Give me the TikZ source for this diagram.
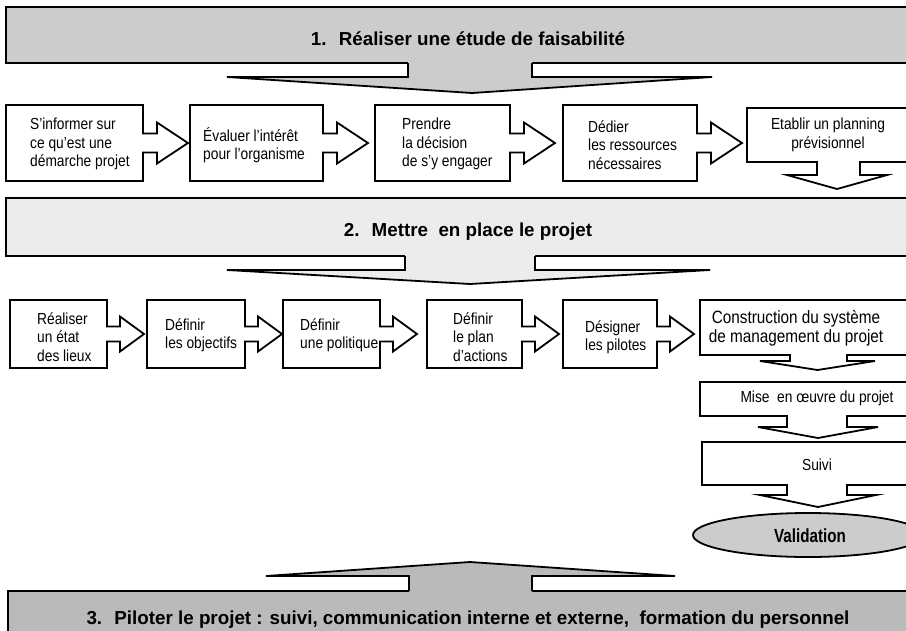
\documentclass[tikz,border=0pt]{standalone}
\usepackage{fontspec}
\setmainfont{Liberation Sans}
\newfontfamily\narrowfont[FakeStretch=0.86]{Liberation Sans}
\newfontfamily\valfont[FakeStretch=0.8]{Liberation Sans}
\usetikzlibrary{shapes.geometric}
\definecolor{gA}{RGB}{204,204,204}
\definecolor{gB}{RGB}{236,236,236}
\definecolor{gC}{RGB}{184,186,188}
\definecolor{gV}{RGB}{204,204,204}
\tikzset{
  outl/.style={draw=black, line width=1.8pt, line join=miter},
  bline/.style={line width=1.8pt, line join=miter},
  boxtxt/.style={font=\narrowfont\fontsize{16}{18.3}\selectfont, inner sep=0pt, align=left, anchor=west},
  ctrtxt/.style={font=\narrowfont\fontsize{16}{18.3}\selectfont, inner sep=0pt, align=center},
  bantxt/.style={font=\bfseries\fontsize{18.8}{22}\selectfont, inner sep=0pt, anchor=base},
}
% box with right block arrow: x1,x2,ytop,ybot,shafthalf,headhalf,baseoff,tipoff
\newcommand\rarrowbox[8]{%
  \pgfmathsetmacro\cyy{(#3+#4)/2}%
  \draw[outl, fill=white] (#1,#3) -- (#2,#3) -- (#2,{\cyy-#5}) -- ({#2+#7},{\cyy-#5})
    -- ({#2+#7},{\cyy-#6}) -- ({#2+#8},\cyy) -- ({#2+#7},{\cyy+#6}) -- ({#2+#7},{\cyy+#5})
    -- (#2,{\cyy+#5}) -- (#2,#4) -- (#1,#4) -- cycle;}
% box with down block arrow: x1,ytop,ybot,sL,sR,wingy,wL,wR,tipy
\newcommand\dbox[9]{%
  \draw[outl, fill=white] (#1,#2) -- (918,#2) -- (918,#3) -- (#5,#3) -- (#5,#6) -- (#8,#6)
    -- ({(#7+#8)/2},#9) -- (#7,#6) -- (#4,#6) -- (#4,#3) -- (#1,#3) -- cycle;}
\begin{document}
\begin{tikzpicture}[x=1pt,y=-1pt]
\useasboundingbox (0,0) rectangle (906,630);
\clip (0,0) rectangle (906,630);
\fill[white] (0,0) rectangle (906,630);

% ---------- banner 1 ----------
\draw[outl, fill=gA] (6,7) rectangle (918,63);
\fill[gA] (408,61) -- (408,77) -- (227,77) -- (472,93) -- (712,77) -- (532,77) -- (532,61) -- cycle;
\draw[bline] (408,63) -- (408,77) -- (227,77) -- (472,93) -- (712,77) -- (532,77) -- (532,63);
\node[bantxt] (ban1) at (468,45) {1.~ Réaliser une étude de faisabilité};

% ---------- row 1 ----------
\rarrowbox{6}{143}{105}{181}{9.5}{20.5}{14}{45}
\rarrowbox{190}{323}{105}{181}{9.5}{20.5}{14}{45}
\rarrowbox{375}{510}{105}{181}{9.5}{20.5}{14}{45}
\rarrowbox{563}{697}{105}{181}{9.5}{20.5}{14}{45}
\dbox{747}{108}{162}{817}{860}{175}{787}{887}{189}
\node[boxtxt] (a1) at (30,144) {S’informer sur\\ce qu’est une\\démarche projet};
\node[boxtxt] (a2) at (203,145) {Évaluer l’intérêt\\pour l’organisme};
\node[boxtxt] (a3) at (402,144) {Prendre\\la décision\\de s’y engager};
\node[boxtxt] (a4) at (588,145) {Dédier\\les ressources\\nécessaires};
\node[ctrtxt] (a5) at (828,135) {Etablir un planning\\prévisionnel};

% ---------- banner 2 ----------
\draw[outl, fill=gB] (6,198) rectangle (918,256);
\fill[gB] (405,254) -- (405,270) -- (227,270) -- (470,284) -- (710,270) -- (535,270) -- (535,254) -- cycle;
\draw[bline] (405,256) -- (405,270) -- (227,270) -- (470,284) -- (710,270) -- (535,270) -- (535,256);
\node[bantxt] (ban2) at (468,236) {2.~ Mettre~ en place le projet};

% ---------- row 2 ----------
\rarrowbox{10}{107}{300}{368}{7.5}{17.5}{13}{37}
\rarrowbox{147}{245}{300}{368}{7.5}{17.5}{13}{37}
\rarrowbox{283}{380}{300}{368}{7.5}{17.5}{13}{37}
\rarrowbox{427}{522}{300}{368}{7.5}{17.5}{13}{37}
\rarrowbox{563}{657}{300}{368}{7.5}{17.5}{13}{37}
\dbox{700}{300}{355}{790}{847}{361}{760}{875}{370}
\node[boxtxt] (b1) at (37,337) {Réaliser\\un état\\des lieux};
\node[boxtxt] (b2) at (165,335) {Définir\\les objectifs};
\node[boxtxt] (b3) at (300,335) {Définir\\une politique};
\node[boxtxt] (b4) at (453,337) {Définir\\le plan\\d’actions};
\node[boxtxt] (b5) at (585,337) {Désigner\\les pilotes};
\node[ctrtxt, font=\narrowfont\fontsize{17.8}{18.8}\selectfont] (b6) at (796,328) {Construction du système\\de management du projet};

% ---------- right column ----------
\dbox{700}{382}{416}{787}{847}{427}{758}{878}{438}
\node[ctrtxt] (c1) at (817,398) {Mise~ en œuvre du projet};
\dbox{702}{442}{485}{787}{847}{495}{760}{876}{507}
\node[ctrtxt] (c2) at (817,465) {Suivi};
\node[draw=black, line width=1.8pt, fill=gV, ellipse, minimum width=230pt, minimum height=44pt, inner sep=0pt] (val) at (808,535) {};
\node[font=\valfont\bfseries\fontsize{19}{20}\selectfont, inner sep=0pt] (valt) at (810,536) {Validation};

% ---------- banner 3 ----------
\draw[outl, fill=gC] (8,591) rectangle (918,650);
\fill[gC] (409,593) -- (409,576) -- (266,576) -- (470,562) -- (675,576) -- (532,576) -- (532,593) -- cycle;
\draw[bline] (409,591) -- (409,576) -- (266,576) -- (470,562) -- (675,576) -- (532,576) -- (532,591);
\node[bantxt] (ban3) at (468,624) {3.~ Piloter le projet : suivi, communication interne et externe,~ formation du personnel};
\end{tikzpicture}
\end{document}
